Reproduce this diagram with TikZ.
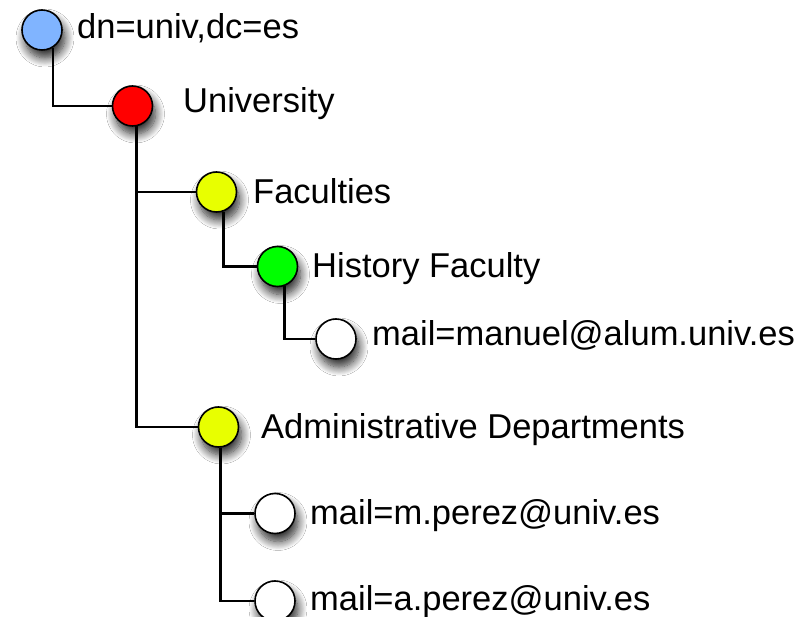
\documentclass[tikz,border=0pt]{standalone}
\usepackage{fontspec}
\setmainfont{Liberation Sans}
\usetikzlibrary{shadows.blur}
\definecolor{cblue}{RGB}{128,180,255}
\definecolor{cred}{RGB}{255,0,0}
\definecolor{cyellow}{RGB}{232,255,0}
\definecolor{cgreen}{RGB}{0,255,0}
\begin{document}
\begin{tikzpicture}[x=1pt,y=-1pt,
  dot/.style={circle,draw=black,line width=1.6pt,minimum size=40pt,inner sep=0pt,
    blur shadow={shadow xshift=3pt,shadow yshift=-8pt,shadow blur radius=9pt,shadow blur steps=12,shadow opacity=85}},
  lbl/.style={anchor=base west,inner sep=0pt,font=\fontsize{34.5}{40}\selectfont},
  conn/.style={line width=2.8pt}]
\useasboundingbox[fill=white] (0,0) rectangle (812,617);

% circles
\node[dot,fill=cblue]   (root)   at (42,30)    {};
\node[dot,fill=cred]    (univ)   at (132.5,106) {};
\node[dot,fill=cyellow] (fac)    at (216.5,192) {};
\node[dot,fill=cgreen]  (hist)   at (277.5,266.5) {};
\node[dot,fill=white]   (manuel) at (336,339) {};
\node[dot,fill=cyellow] (admin)  at (218.5,427) {};
\node[dot,fill=white]   (mperez) at (275,513.5) {};
\node[dot,fill=white]   (aperez) at (275,601) {};

% labels
\node[lbl] (troot)   at (77,39)   {dn=univ,dc=es};
\node[lbl] (tuniv)   at (183,113) {University};
\node[lbl] (tfac)    at (253,204) {Faculties};
\node[lbl] (thist)   at (312,278) {History Faculty};
\node[lbl] (tmanuel) at (372,346) {mail=manuel@alum.univ.es};
\node[lbl] (tadmin)  at (261,439) {Administrative Departments};
\node[lbl] (tmperez) at (310,525) {mail=m.perez@univ.es};
\node[lbl] (taperez) at (310,611) {mail=a.perez@univ.es};

% connectors
\draw[conn] (root.-58) |- (univ.west);
\draw[conn] (univ.-80) |- (fac.west);
\draw[conn] (univ.-80) |- (admin.west);
\draw[conn] (fac.-70) |- (hist.west);
\draw[conn] (hist.-70) |- (manuel.west);
\draw[conn] (admin.-85) |- (mperez.west);
\draw[conn] (admin.-85) |- (aperez.west);
\end{tikzpicture}
\end{document}
